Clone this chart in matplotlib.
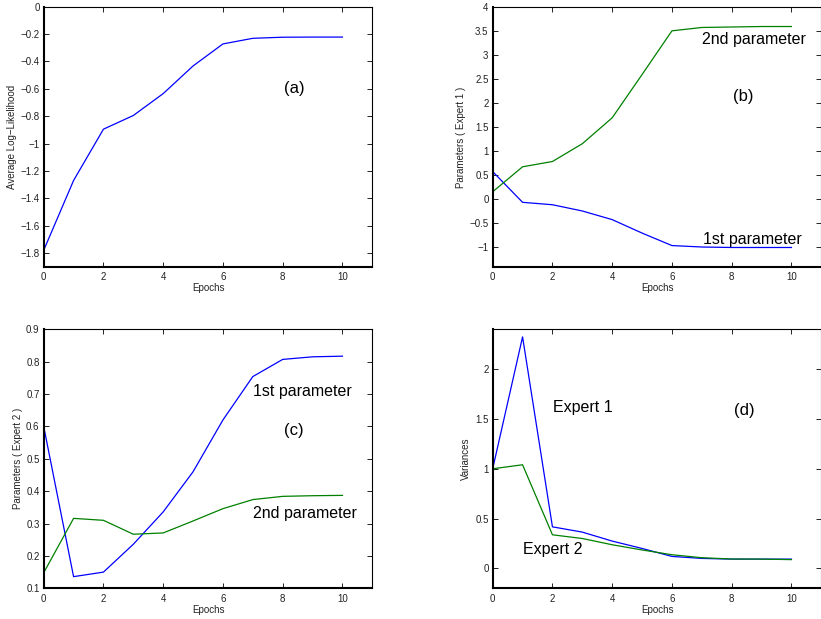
import matplotlib
matplotlib.use("Agg")
import matplotlib.pyplot as plt
from matplotlib.ticker import FuncFormatter, MultipleLocator

plt.rcParams['font.family'] = ['Liberation Sans', 'DejaVu Sans']

epochs = list(range(11))

loglik = [-1.78, -1.27, -0.895, -0.795, -0.635, -0.433, -0.272, -0.231, -0.223, -0.222, -0.222]

e1_param1 = [0.58, -0.06, -0.11, -0.24, -0.42, -0.70, -0.96, -0.99, -1.0, -1.0, -1.0]
e1_param2 = [0.16, 0.68, 0.79, 1.16, 1.70, 2.60, 3.51, 3.58, 3.59, 3.60, 3.60]

e2_param1 = [0.60, 0.136, 0.150, 0.236, 0.336, 0.460, 0.620, 0.754, 0.807, 0.815, 0.817]
e2_param2 = [0.148, 0.316, 0.310, 0.267, 0.271, 0.308, 0.346, 0.374, 0.384, 0.386, 0.387]

var_expert1 = [1.0, 2.324, 0.417, 0.364, 0.274, 0.20, 0.12, 0.10, 0.093, 0.093, 0.093]
var_expert2 = [1.0, 1.04, 0.337, 0.30, 0.237, 0.185, 0.137, 0.107, 0.094, 0.093, 0.088]

BLUE = '#0000ff'
GREEN = '#008000'

W, H = 821, 619
fig = plt.figure(figsize=(W / 100, H / 100), dpi=100)


def fmt(v, pos):
    s = '%g' % round(v, 6)
    if s == '-0':
        s = '0'
    return s.replace('-', '\u2212')


def style(ax, ylabel, xlab_y, ylab_x):
    ax.set_xlim(0, 11)
    ax.xaxis.set_major_locator(MultipleLocator(2))
    ax.xaxis.set_major_formatter(FuncFormatter(lambda v, p: '%d' % v if v <= 10 else ''))
    ax.yaxis.set_major_formatter(FuncFormatter(fmt))
    ax.tick_params(direction='in', length=3.5, width=0.7, top=True, right=True,
                   labelsize=7, colors='#222222', labelcolor='#222222', pad=3)
    ax.tick_params(axis='x', pad=4)
    for s in ['left', 'bottom']:
        ax.spines[s].set_linewidth(1.5)
    for s in ['top', 'right']:
        ax.spines[s].set_linewidth(0.8)
    ax.set_xlabel('Epochs', fontsize=7, color='#222222')
    ax.set_ylabel(ylabel, fontsize=7, color='#222222')
    ax.xaxis.set_label_coords(0.5, xlab_y)
    ax.yaxis.set_label_coords(ylab_x, 0.5)


pos_a = [43.7 / W, 1 - 266.7 / H, 328.6 / W, 260 / H]
pos_b = [492.7 / W, 1 - 266.7 / H, 328.6 / W, 259.4 / H]
pos_c = [43.7 / W, 1 - 588.3 / H, 328.6 / W, 259 / H]
pos_d = [492.7 / W, 1 - 588.3 / H, 328.6 / W, 259 / H]

lw = 0.9

# (a)
ax = fig.add_axes(pos_a)
ax.plot(epochs, loglik, color=BLUE, lw=lw)
ax.set_ylim(-1.9, 0)
ax.yaxis.set_major_locator(MultipleLocator(0.2))
style(ax, 'Average Log\u2212Likelihood', -0.063, -0.080)
ax.text(8.4, -0.6, '(a)', fontsize=12, ha='center', va='center')

# (b)
ax = fig.add_axes(pos_b)
ax.plot(epochs, e1_param1, color=BLUE, lw=lw)
ax.plot(epochs, e1_param2, color=GREEN, lw=lw)
ax.set_ylim(-1.4, 4)
ax.yaxis.set_major_locator(MultipleLocator(0.5))
style(ax, 'Parameters ( Expert 1 )', -0.063, -0.080)
ax.text(8.4, 2.15, '(b)', fontsize=12, ha='center', va='center')
ax.text(7.0, 3.34, '2nd parameter', fontsize=11.5, ha='left', va='center')
ax.text(7.04, -0.84, '1st parameter', fontsize=11.5, ha='left', va='center')

# (c)
ax = fig.add_axes(pos_c)
ax.plot(epochs, e2_param1, color=BLUE, lw=lw)
ax.plot(epochs, e2_param2, color=GREEN, lw=lw)
ax.set_ylim(0.1, 0.9)
ax.yaxis.set_major_locator(MultipleLocator(0.1))
style(ax, 'Parameters ( Expert 2 )', -0.066, -0.064)
ax.text(8.37, 0.586, '(c)', fontsize=12, ha='center', va='center')
ax.text(7.02, 0.709, '1st parameter', fontsize=11.5, ha='left', va='center')
ax.text(7.0, 0.331, '2nd parameter', fontsize=11.5, ha='left', va='center')

# (d)
ax = fig.add_axes(pos_d)
ax.plot(epochs, var_expert1, color=BLUE, lw=lw)
ax.plot(epochs, var_expert2, color=GREEN, lw=lw)
ax.set_ylim(-0.2, 2.4)
ax.set_yticks([0, 0.5, 1, 1.5, 2])
style(ax, 'Variances', -0.066, -0.066)
ax.text(8.41, 1.583, '(d)', fontsize=12, ha='center', va='center')
ax.text(2.03, 1.613, 'Expert 1', fontsize=11.5, ha='left', va='center')
ax.text(1.02, 0.187, 'Expert 2', fontsize=11.5, ha='left', va='center')

fig.savefig('out.png', dpi=100)
